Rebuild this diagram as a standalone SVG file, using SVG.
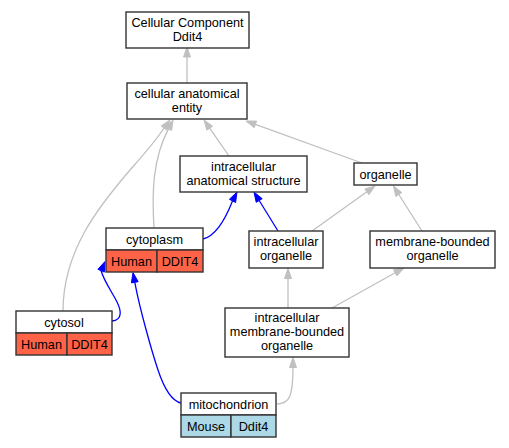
<svg xmlns="http://www.w3.org/2000/svg" width="509" height="448" viewBox="0 0 509 448">
<style>
.box{fill:#ffffff;stroke:#333333;stroke-width:1.4}
.red{fill:#ff6347;stroke:#333333;stroke-width:1.4}
.blueBox{fill:#add8e6;stroke:#333333;stroke-width:1.4}
text{font-family:"Liberation Sans",Arial,sans-serif;font-size:12.7px;fill:#000000;text-anchor:middle}
.g{fill:none;stroke:#c0c0c0;stroke-width:1.3}
.b{fill:none;stroke:#0000ff;stroke-width:1.3}
.ga{fill:#c0c0c0;stroke:#c0c0c0;stroke-width:1}
.ba{fill:#0000ff;stroke:#0000ff;stroke-width:1}
</style>
<rect width="509" height="448" fill="#ffffff"/>
<g id="connectors">
<path class="g" d="M187,83 L187,57"/>
<polygon class="ga" points="187,47 190.5,57 183.5,57"/>
<path class="g" d="M229,156 L209.7,128.2"/>
<polygon class="ga" points="204,120 212.6,126.2 206.8,130.2"/>
<path class="g" d="M362,163 L255.4,124.4"/>
<polygon class="ga" points="246,121 256.6,121.1 254.2,127.7"/>
<path class="g" d="M154,228 C152,195 152,160 168.5,128.9"/>
<polygon class="ga" points="173,120 171.6,130.5 165.4,127.3"/>
<path class="g" d="M63,311 C63,250 100,205 130,170 C145,153 155,142 164,128"/>
<polygon class="ga" points="170,120 166.8,130.1 161.2,125.9"/>
<path class="b" d="M203,239 C215,236 225,220 232.5,200.9"/>
<polygon class="ba" points="237,192 235.6,202.5 229.4,199.3"/>
<path class="b" d="M278,231 L259.2,200.5"/>
<polygon class="ba" points="254,192 262.2,198.7 256.2,202.3"/>
<path class="g" d="M312,231 L366.9,191.8"/>
<polygon class="ga" points="375,186 368.9,194.7 364.9,189"/>
<path class="g" d="M422,231 L398.8,194.5"/>
<polygon class="ga" points="393.5,186 401.8,192.6 395.8,196.4"/>
<path class="g" d="M288,308 L288,278.5"/>
<polygon class="ga" points="288,268.5 291.5,278.5 284.5,278.5"/>
<path class="g" d="M332,308 L395.2,272.8"/>
<polygon class="ga" points="404,268 396.9,275.9 393.5,269.7"/>
<path class="g" d="M277,404 C290,404 293,395 293,367.5"/>
<polygon class="ga" points="293,357.5 296.5,367.5 289.5,367.5"/>
<path class="b" d="M181,403 C172,401 164,388 158,370 C152,352 140,310 134.8,282.3"/>
<polygon class="ba" points="133,272.5 138.2,281.7 131.4,282.9"/>
<path class="b" d="M112,321 C123,320 121,310 117,302 C112,292 104,281 101.1,270.7"/>
<polygon class="ba" points="105,261.5 104.3,272.1 97.9,269.3"/>
</g>
<g id="cc_ddit4">
<rect class="box" x="126" y="12" width="123" height="36"/>
<text x="187.5" y="26.5">Cellular Component</text>
<text x="187.5" y="40.5">Ddit4</text>
</g>
<g id="cellular_anatomical_entity">
<rect class="box" x="127" y="83" width="120" height="36"/>
<text x="187" y="97.5">cellular anatomical</text>
<text x="187" y="111.5">entity</text>
</g>
<g id="intracellular_anatomical_structure">
<rect class="box" x="180" y="156" width="127" height="36"/>
<text x="243.5" y="170.5">intracellular</text>
<text x="243.5" y="184.5">anatomical structure</text>
</g>
<g id="organelle">
<rect class="box" x="354" y="163" width="63" height="22"/>
<text x="385.5" y="178.5">organelle</text>
</g>
<g id="cytoplasm">
<rect class="box" x="106" y="228" width="97" height="22"/>
<rect class="red" x="106" y="250" width="51" height="22"/>
<rect class="red" x="157" y="250" width="46" height="22"/>
<text x="154.5" y="243.5">cytoplasm</text>
<text x="131.5" y="265.5">Human</text>
<text x="180" y="265.5">DDIT4</text>
</g>
<g id="intracellular_organelle">
<rect class="box" x="249" y="231" width="74" height="37"/>
<text x="286" y="245.5">intracellular</text>
<text x="286" y="259.5">organelle</text>
</g>
<g id="membrane_bounded_organelle">
<rect class="box" x="370" y="231" width="125" height="37"/>
<text x="432.5" y="245.5">membrane-bounded</text>
<text x="432.5" y="259.5">organelle</text>
</g>
<g id="cytosol">
<rect class="box" x="16" y="311" width="96" height="22"/>
<rect class="red" x="16" y="333" width="51" height="22"/>
<rect class="red" x="67" y="333" width="45" height="22"/>
<text x="64" y="326.5">cytosol</text>
<text x="41.5" y="348.5">Human</text>
<text x="89.5" y="348.5">DDIT4</text>
</g>
<g id="intracellular_membrane_bounded_organelle">
<rect class="box" x="225" y="308" width="124" height="49"/>
<text x="287" y="322">intracellular</text>
<text x="287" y="336">membrane-bounded</text>
<text x="287" y="350">organelle</text>
</g>
<g id="mitochondrion">
<rect class="box" x="181" y="393" width="95" height="22"/>
<rect class="blueBox" x="181" y="415" width="50" height="22"/>
<rect class="blueBox" x="231" y="415" width="45" height="22"/>
<text x="228.5" y="408.5">mitochondrion</text>
<text x="206" y="430.5">Mouse</text>
<text x="253.5" y="430.5">Ddit4</text>
</g>
</svg>
